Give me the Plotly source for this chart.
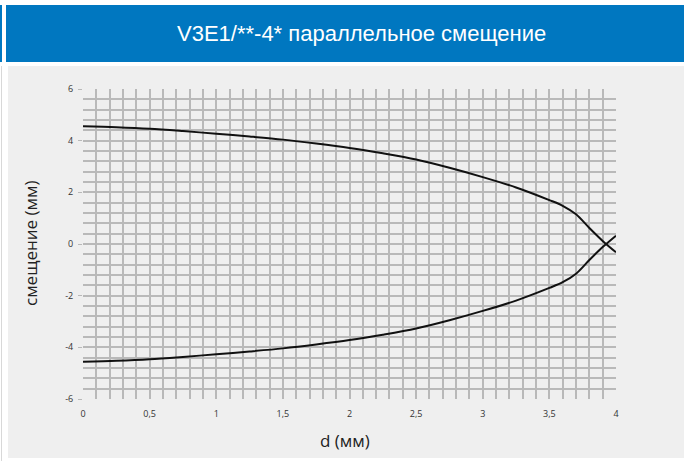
import plotly.graph_objects as go

d_mm = [0, 0.25, 0.5, 0.75, 1.0, 1.25, 1.5, 1.75, 2.0, 2.25, 2.5, 2.75, 3.0, 3.25, 3.5, 3.6, 3.7, 3.8, 3.9, 4.0]
upper = [4.56, 4.52, 4.46, 4.37, 4.27, 4.16, 4.04, 3.89, 3.72, 3.51, 3.27, 2.95, 2.59, 2.19, 1.70, 1.48, 1.15, 0.62, 0.12, -0.32]
lower = [-v for v in upper]

x_tickvals = [0, 0.5, 1, 1.5, 2, 2.5, 3, 3.5, 4]
x_ticktext = ["0", "0,5", "1", "1,5", "2", "2,5", "3", "3,5", "4"]
y_tickvals = [-6, -4, -2, 0, 2, 4, 6]
y_ticktext = ["-6", "-4", "-2", "0", "2", "4", "6"]

title_text = "V3E1/**-4* параллельное смещение"
x_title = "d (мм)"
y_title = "смещение (мм)"

W, H = 684, 461
L, R, T, B = 83, 68, 89, 62
pw, ph = W - L - R, H - T - B

def px(x):
    return (x - L) / pw

def py(y):
    return (H - B - y) / ph

fig = go.Figure()
for ys in (upper, lower):
    fig.add_trace(go.Scatter(x=d_mm, y=ys, mode="lines", line=dict(color="#111111", width=2, shape="spline", smoothing=0.9),
                             showlegend=False, hoverinfo="skip"))

grid_c = "#b9b9b9"
gw = 2
fig.update_layout(
    width=W, height=H,
    margin=dict(l=L, r=R, t=T, b=B),
    paper_bgcolor="white",
    plot_bgcolor="#efefef",
    xaxis=dict(range=[0, 4], tickvals=x_tickvals, ticktext=x_ticktext, showgrid=True, gridcolor=grid_c, gridwidth=gw,
               minor=dict(dtick=0.1, tick0=0, showgrid=True, gridcolor=grid_c, gridwidth=gw),
               zeroline=False, showline=False, ticks="", ticklabelstandoff=8,
               tickfont=dict(family="Open Sans", size=9, color="#333333"), fixedrange=True),
    yaxis=dict(range=[-6, 6], tickvals=y_tickvals, ticktext=y_ticktext, showgrid=True, gridcolor=grid_c, gridwidth=gw,
               minor=dict(dtick=0.4, tick0=0, showgrid=True, gridcolor=grid_c, gridwidth=gw),
               zeroline=False, showline=False, ticks="outside", ticklen=4, tickcolor=grid_c, tickwidth=1,
               ticklabelstandoff=3,
               tickfont=dict(family="Open Sans", size=9, color="#333333"), fixedrange=True),
    shapes=[
        dict(type="rect", xref="paper", yref="paper", x0=px(8), x1=px(690), y0=py(458), y1=py(66),
             fillcolor="#efefef", line=dict(width=0), layer="below"),
        dict(type="line", xref="paper", yref="paper", x0=px(1.5), x1=px(1.5), y0=py(461), y1=py(66),
             line=dict(color="#d8d8d8", width=1), layer="below"),
        dict(type="rect", xref="paper", yref="paper", x0=px(6), x1=px(690), y0=py(62), y1=py(5),
             fillcolor="#0077c0", line=dict(width=0), layer="below"),
        dict(type="rect", xref="paper", yref="paper", x0=px(-2), x1=px(2), y0=py(62), y1=py(5),
             fillcolor="#0077c0", line=dict(width=0), layer="below"),
    ],
    annotations=[
        dict(text=title_text, xref="paper", yref="paper", x=px(361), y=py(34), xanchor="center", yanchor="middle",
             showarrow=False, font=dict(family="Liberation Sans", size=22, color="white")),
        dict(text=x_title, xref="paper", yref="paper", x=px(345), y=py(440), xanchor="center", yanchor="middle",
             showarrow=False, font=dict(family="Open Sans", size=17, color="#222222")),
        dict(text=y_title, xref="paper", yref="paper", x=px(30), y=py(244), xanchor="center", yanchor="middle",
             textangle=-90, showarrow=False, font=dict(family="Open Sans", size=17, color="#222222")),
    ],
)

fig.write_html("out.html", config={"displayModeBar": False, "staticPlot": True},
               post_script="document.body.style.margin='0';document.body.style.overflow='hidden';")
